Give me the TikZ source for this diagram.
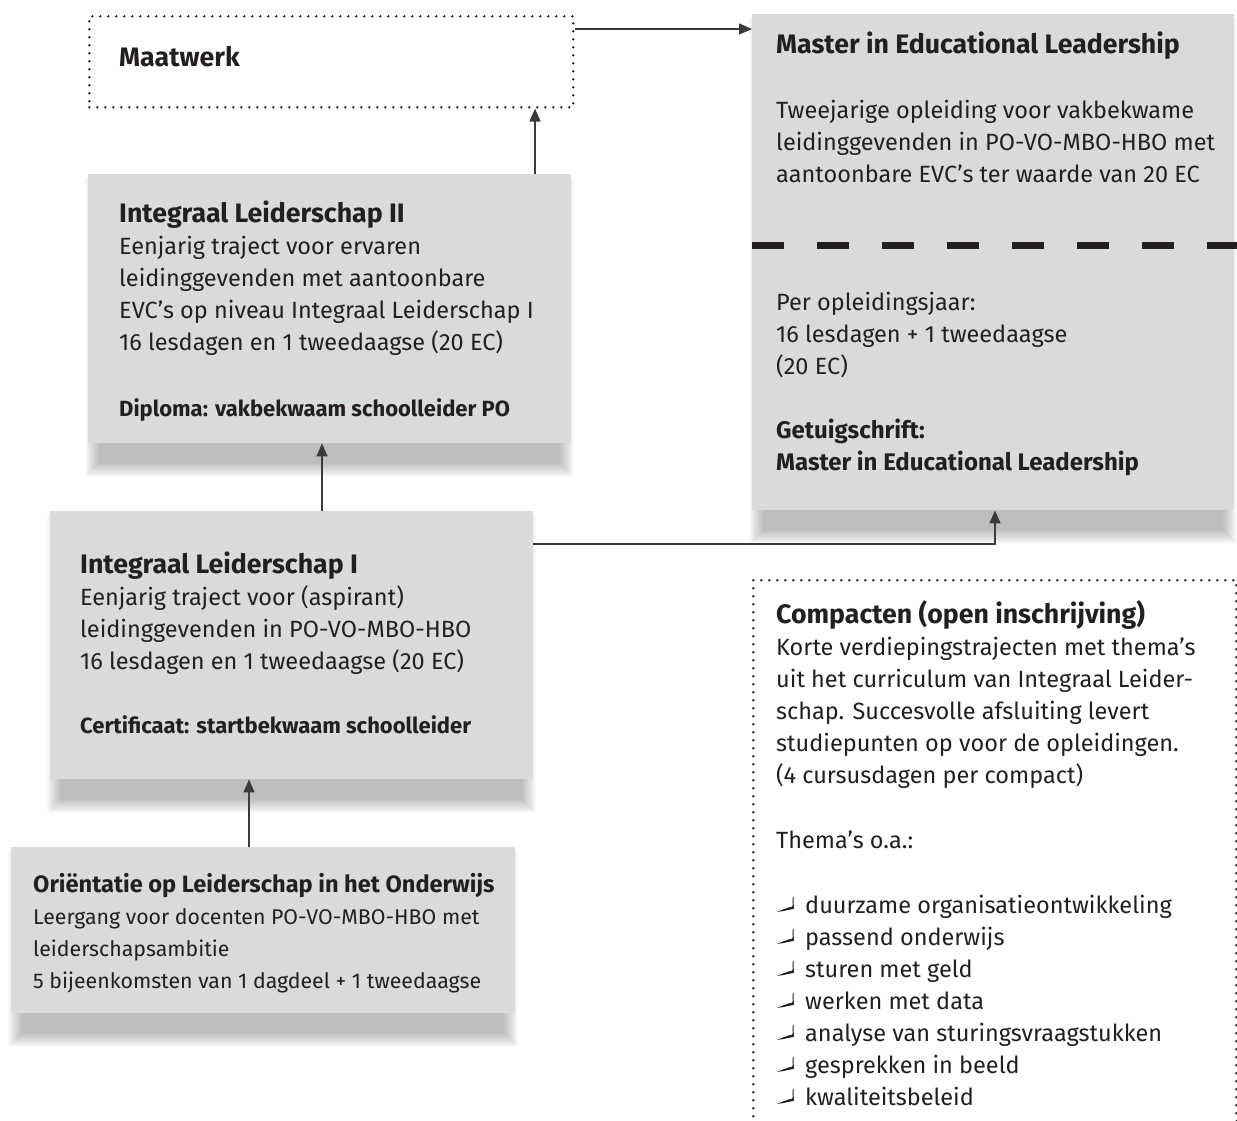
\documentclass[tikz,border=0pt]{standalone}
\usepackage{fontspec}
\setmainfont{Fira Sans}
\usetikzlibrary{positioning}
\usetikzlibrary{arrows.meta}
\usetikzlibrary{calc}
\usetikzlibrary{backgrounds}
\definecolor{kadergrijs}{HTML}{D9DADC}
\definecolor{tekstzwart}{HTML}{231F20}
\definecolor{lijngrijs}{HTML}{3A3A3A}
\tikzset{
  kader/.style={fill=kadergrijs, inner sep=0pt, anchor=north west},
  stippel/.style={draw=tekstzwart, line width=2.6pt, dash pattern=on 0pt off 8pt, line cap=round, inner sep=0pt, anchor=north west},
  tekst/.style={anchor=north west, align=left, inner sep=0pt, text=tekstzwart, font=\fontsize{23.5}{32}\selectfont},
  pijl/.style={draw=lijngrijs, line width=1.4pt, -{Triangle[length=13pt,width=11pt]}},
  schaduw/.style={fill=black, opacity=0.021},
  scheiding/.style={draw=tekstzwart, line width=7pt, dash pattern=on 32pt off 33pt},
  vink/.style={fill=tekstzwart}
}
% vette regel in een gegeven korpsgrootte
\newcommand{\vet}[2]{{\fontsize{#1}{32}\selectfont\bfseries #2}}
\newcommand{\schaduwonder}[1]{%
  \foreach \k in {0,...,14}
    \fill[schaduw] ($(#1.north west)+(11-\k,17-\k)$) rectangle ($(#1.south east)+(-11+\k,20+\k)$);}

\begin{document}
\begin{tikzpicture}[x=1pt, y=-1pt]
  \useasboundingbox (0,0) rectangle (1237,1120);

  % kaders
  \node[stippel, minimum width=484pt, minimum height=91pt] (maatwerk) at (88,15) {};
  \node[kader, minimum width=482pt, minimum height=496pt] (master) at (752,14) {};
  \node[kader, minimum width=483pt, minimum height=269pt] (il2) at (88,174) {};
  \node[kader, minimum width=483pt, minimum height=268pt] (il1) at (50,511) {};
  \node[kader, minimum width=504pt, minimum height=166pt] (orient) at (11,847) {};
  \node[stippel, minimum width=483pt, minimum height=546pt] (compacten) at (752,579) {};

  \begin{scope}[on background layer]
    \schaduwonder{master}
    \schaduwonder{il2}
    \schaduwonder{il1}
    \schaduwonder{orient}
  \end{scope}

  \draw[scheiding] ($(master.north west)+(0,231)$) -- ($(master.north east)+(3,231)$);

  % teksten
  \node[tekst] (maatwerktekst) at (119,43.6) {\strut\vet{26.7}{Maatwerk}};
  \node[tekst] (mastertekst) at (776,30.6) {\strut\vet{26.7}{Master in Educational Leadership}\\[33pt]
    Tweejarige opleiding voor vakbekwame\\
    leidinggevenden in PO-VO-MBO-HBO met\\
    aantoonbare EVC’s ter waarde van 20 EC};
  \node[tekst] (masterjaar) at (776,287.6) {\strut Per opleidingsjaar:\\
    16 lesdagen + 1 tweedaagse\\
    (20 EC)\\[32pt]
    \vet{24}{Getuigschrift:}\\
    \vet{24}{Master in Educational Leadership}};
  \node[tekst] (il2tekst) at (119,199.6) {\strut\vet{26.7}{Integraal Leiderschap II}\\
    Eenjarig traject voor ervaren\\
    leidinggevenden met aantoonbare\\
    EVC’s op niveau Integraal Leiderschap I\\
    16 lesdagen en 1 tweedaagse (20 EC)\\[34pt]
    \vet{22}{Diploma: vakbekwaam schoolleider PO}};
  \node[tekst] (il1tekst) at (80,550.6) {\strut\vet{26.7}{Integraal Leiderschap I}\\
    Eenjarig traject voor (aspirant)\\
    leidinggevenden in PO-VO-MBO-HBO\\
    16 lesdagen en 1 tweedaagse (20 EC)\\[32pt]
    \vet{22}{Certificaat: startbekwaam schoolleider}};
  \node[tekst, font=\fontsize{21.3}{32}\selectfont] (orienttekst) at (33,869.6) {\strut\vet{23.6}{Oriëntatie op Leiderschap in het Onderwijs}\\
    Leergang voor docenten PO-VO-MBO-HBO met\\
    leiderschapsambitie\\
    5 bijeenkomsten van 1 dagdeel + 1 tweedaagse};
  \node[tekst] (compactentekst) at (776,600.6) {\strut\vet{26.7}{Compacten (open inschrijving)}\\
    Korte verdiepingstrajecten met thema’s\\
    uit het curriculum van Integraal Leider-\\
    schap. Succesvolle afsluiting levert\\
    studiepunten op voor de opleidingen.\\
    (4 cursusdagen per compact)\\[33pt]
    Thema’s o.a.:\\[33pt]
    \hspace*{29pt}duurzame organisatieontwikkeling\\
    \hspace*{29pt}passend onderwijs\\
    \hspace*{29pt}sturen met geld\\
    \hspace*{29pt}werken met data\\
    \hspace*{29pt}analyse van sturingsvraagstukken\\
    \hspace*{29pt}gesprekken in beeld\\
    \hspace*{29pt}kwaliteitsbeleid};

  % vinkjes
  \foreach \k in {0,...,6} {
    \fill[vink, shift={(777,913+32*\k)}] (0,-1.2) .. controls (6,-1.6) and (11,-3) .. (16.6,-4.2) -- (16.6,-6.8)
      .. controls (11,-5.6) and (5,-3.2) .. cycle;
    \fill[vink, shift={(777,913+32*\k)}] (15.4,-4.6) -- (16.8,-4.2) -- (16.6,-16.5) -- (15.8,-16.2) -- cycle;
  }

  % verbindingen
  \coordinate (maatuit) at ($(maatwerk.north east)+(0,14)$);
  \coordinate (il2uit) at ($(il2.north west)+(447,0)$);
  \coordinate (il1uit) at ($(il1.north west)+(272,0)$);
  \coordinate (orientuit) at ($(orient.north west)+(238,0)$);
  \coordinate (il1zij) at ($(il1.north east)+(0,33)$);
  \coordinate (masterin) at ($(master.south west)+(243,0)$);
  \draw[pijl] (maatuit) -- (maatuit -| master.west);
  \draw[pijl] (il2uit) -- (il2uit |- maatwerk.south);
  \draw[pijl] (il1uit) -- (il1uit |- il2.south);
  \draw[pijl] (orientuit) -- (orientuit |- il1.south);
  \draw[pijl] (il1zij) -| (masterin);
\end{tikzpicture}
\end{document}
